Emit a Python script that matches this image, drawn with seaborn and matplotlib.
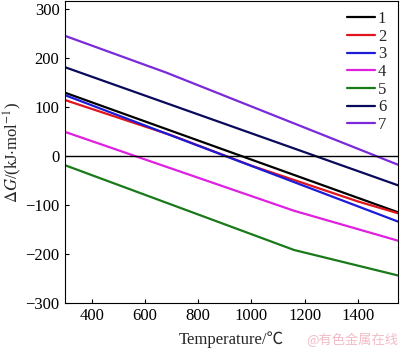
import pandas as pd
import seaborn as sns
import matplotlib.pyplot as plt

# temperature breakpoints (C) and dG (kJ/mol) for each reaction
t1 = [300, 1550]
g1 = [129, -115]
t2 = [300, 700, 1000, 1400, 1550]
g2 = [114, 42, -20, -93, -117]
t3 = [300, 1550]
g3 = [124, -134]
t4 = [300, 1160, 1550]
g4 = [49, -112, -173]
t5 = [300, 1160, 1550]
g5 = [-19, -192, -244]
t6 = [300, 1550]
g6 = [181, -60]
t7 = [300, 680, 1550]
g7 = [245, 170, -18]

labels = ['1', '2', '3', '4', '5', '6', '7']
colors = ['#000000', '#e0141c', '#1c1cd8', '#e020e0', '#1a7a1a', '#0a0a5c', '#7a2ad8']

T = [t1, t2, t3, t4, t5, t6, t7]
G = [g1, g2, g3, g4, g5, g6, g7]
rows = []
for lab, ts, gs in zip(labels, T, G):
    for t, g in zip(ts, gs):
        rows.append({'T': t, 'G': g, 'r': lab})
df = pd.DataFrame(rows)

sns.set_style("ticks")
plt.rcParams['font.family'] = ['Liberation Serif', 'Noto Sans CJK SC', 'DejaVu Sans']
plt.rcParams['mathtext.fontset'] = 'stix'

fig = plt.figure(figsize=(4, 3.51), dpi=100)
ax = fig.add_axes([0.1625, 0.137, 0.8325, 0.86])
sns.lineplot(data=df, x='T', y='G', hue='r', palette=dict(zip(labels, colors)),
             linewidth=1.6, ax=ax, sort=False, estimator=None)
ax.axhline(0, color='black', linewidth=1)

ax.set_xlim(300, 1550)
ax.set_ylim(-300, 316)
ax.set_xticks([400, 600, 800, 1000, 1200, 1400])
ax.set_yticks([-300, -200, -100, 0, 100, 200, 300])
ax.tick_params(direction='in', labelsize=12, length=3, width=0.8, colors='black', pad=4)
for s in ax.spines.values():
    s.set_linewidth(0.8)
    s.set_color('black')

ax.set_xlabel('Temperature/\u2103', fontsize=12, labelpad=5)
ax.set_ylabel(r'$\Delta G$/(kJ$\cdot$mol$^{-1}$)', fontsize=12, labelpad=1)

ax.legend(loc='upper right', frameon=False, fontsize=12, handlelength=1.7,
          handletextpad=0.15, labelspacing=0.1, borderaxespad=0.2,
          bbox_to_anchor=(0.995, 1.0))

fig.text(0.995, 0.012, '@有色金属在线', ha='right', va='bottom', fontsize=9.5,
         color='#f2bcc6', family=['Noto Sans CJK SC', 'DejaVu Sans'])

fig.savefig('out.png', dpi=100)
